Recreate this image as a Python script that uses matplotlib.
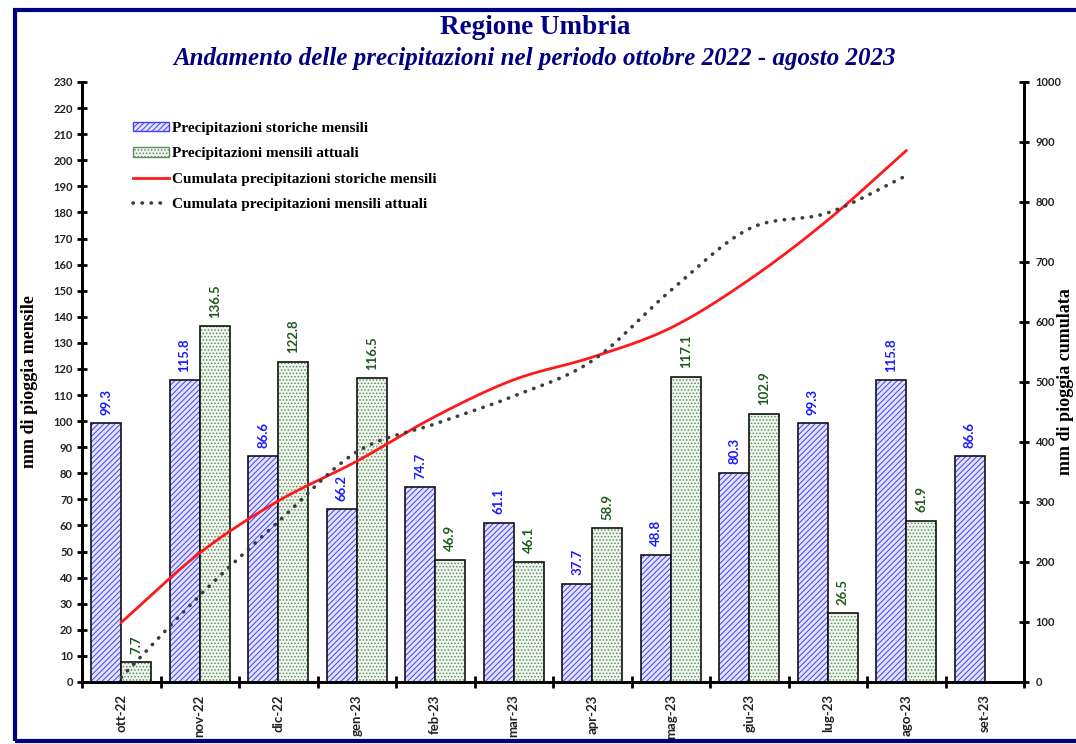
import numpy as np
import matplotlib
matplotlib.use("Agg")
from matplotlib import pyplot as plt
from matplotlib.patches import Patch, Rectangle
from matplotlib.lines import Line2D

months = ['ott-22', 'nov-22', 'dic-22', 'gen-23', 'feb-23', 'mar-23',
          'apr-23', 'mag-23', 'giu-23', 'lug-23', 'ago-23', 'set-23']
storiche = [99.3, 115.8, 86.6, 66.2, 74.7, 61.1, 37.7, 48.8, 80.3, 99.3, 115.8, 86.6]
attuali = [7.7, 136.5, 122.8, 116.5, 46.9, 46.1, 58.9, 117.1, 102.9, 26.5, 61.9]
cum_storiche = [99.3, 215.1, 301.7, 367.9, 442.6, 503.7, 541.4, 590.2, 670.5, 769.8, 885.6]
cum_attuali = [7.7, 144.2, 267.0, 383.5, 430.4, 476.5, 535.4, 652.5, 755.4, 781.9, 843.8]

navy = '#000080'
blue_txt = '#1a1aff'
green_txt = '#1e5a1e'
serif = 'Liberation Serif'
sans = 'Lato'

plt.rcParams['hatch.linewidth'] = 0.7


def smooth(x, y, n=24):
    """Catmull-Rom curve through the points, like Excel's smoothed line."""
    x = np.asarray(x, float)
    y = np.asarray(y, float)
    px = np.concatenate([[2*x[0]-x[1]], x, [2*x[-1]-x[-2]]])
    py = np.concatenate([[2*y[0]-y[1]], y, [2*y[-1]-y[-2]]])
    xs, ys = [], []
    t = np.linspace(0, 1, n, endpoint=False)
    for i in range(1, len(px)-2):
        for p, out in ((px, xs), (py, ys)):
            p0, p1, p2, p3 = p[i-1], p[i], p[i+1], p[i+2]
            out.extend(0.5*((2*p1) + (-p0+p2)*t + (2*p0-5*p1+4*p2-p3)*t**2
                            + (-p0+3*p1-3*p2+p3)*t**3))
    xs.append(x[-1])
    ys.append(y[-1])
    return np.array(xs), np.array(ys)


f = plt.figure(figsize=(10.76, 7.44), dpi=100)
ax = f.add_axes([82/1076., 62/744., 942/1076., 600/744.])
ax2 = ax.twinx()

# page border
f.patches.append(Rectangle((15/1076., 3/744.), 1.2, 731/744., transform=f.transFigure,
                           fill=False, edgecolor=navy, linewidth=3, zorder=0))

x = np.arange(len(months))
w = 0.385
xh = x - w/2
xa = x[:len(attuali)] + w/2

# hatched fill first, then a black outline on top
ax.bar(xh, storiche, w, color='#e3e3ff', edgecolor='#4040ff', hatch='//////', linewidth=0)
ax.bar(xh, storiche, w, fill=False, edgecolor='#111111', linewidth=1.2)
ax.bar(xa, attuali, w, color='#eef5ee', edgecolor='#5e8e5e', hatch='.....', linewidth=0)
ax.bar(xa, attuali, w, fill=False, edgecolor='#111111', linewidth=1.2)

for xi, v in zip(xh, storiche):
    ax.annotate('%.1f' % v, (xi, v), xytext=(0, 6), textcoords='offset points',
                rotation=90, ha='center', va='bottom', color=blue_txt,
                fontsize=9.5, fontweight='bold', family=sans)
for xi, v in zip(xa, attuali):
    ax.annotate('%.1f' % v, (xi, v), xytext=(0, 6), textcoords='offset points',
                rotation=90, ha='center', va='bottom', color=green_txt,
                fontsize=9.5, fontweight='bold', family=sans)

ax2.plot(*smooth(x[:len(cum_storiche)], cum_storiche), color='#ff1a1a', linewidth=2)
ax2.plot(*smooth(x[:len(cum_attuali)], cum_attuali), color='#3c3c3c', linewidth=2.6,
         linestyle=(0, (0.1, 2.4)), dash_capstyle='round')

ax.set_xlim(-0.5, len(months) - 0.5)
ax.set_ylim(0, 230)
ax2.set_ylim(0, 1000)
ax.set_yticks(np.arange(0, 231, 10))
ax2.set_yticks(np.arange(0, 1001, 100))

ax.set_xticks(np.arange(-0.5, len(months), 1.0))
ax.set_xticklabels([])
ax.set_xticks(x, minor=True)
ax.set_xticklabels(months, minor=True, rotation=90, fontsize=9.5, fontweight='bold',
                   family=sans, color='#222222')
ax.tick_params(axis='x', which='minor', length=0, pad=9)
ax.tick_params(axis='x', which='major', direction='inout', length=8, width=2)
ax.tick_params(axis='y', direction='inout', length=7, width=2, labelsize=8,
               labelcolor='#222222', pad=3)
ax2.tick_params(axis='y', direction='inout', length=7, width=2, labelsize=8,
                labelcolor='#222222', pad=5)
for a in (ax, ax2):
    for lab in a.get_yticklabels():
        lab.set_fontweight('bold')
        lab.set_family(sans)
    a.spines['top'].set_visible(False)
    for s in ('left', 'right', 'bottom'):
        a.spines[s].set_linewidth(2)

f.text(30/1076., 0.487, 'mm di pioggia mensile', rotation=90, ha='center', va='center',
       fontsize=13, fontweight='bold', family=serif)
f.text(1066/1076., 0.487, 'mm di pioggia cumulata', rotation=90, ha='center', va='center',
       fontsize=13, fontweight='bold', family=serif)

f.text(535/1076., 1 - 28/744., 'Regione Umbria', ha='center', va='center',
       fontsize=19.5, fontweight='bold', family=serif, color=navy)
f.text(535/1076., 1 - 58/744., 'Andamento delle precipitazioni nel periodo ottobre 2022 - agosto 2023',
       ha='center', va='center', fontsize=18, fontweight='bold', style='italic',
       family=serif, color=navy)

handles = [Patch(facecolor='#e3e3ff', edgecolor='#4040ff', hatch='//////'),
           Patch(facecolor='#eef5ee', edgecolor='#5e8e5e', hatch='.....'),
           Line2D([], [], color='#ff1a1a', linewidth=2),
           Line2D([], [], color='#3c3c3c', linewidth=2.6, linestyle=(0, (0.1, 2.4)),
                  dash_capstyle='round')]
labels = ['Precipitazioni storiche mensili', 'Precipitazioni mensili attuali',
          'Cumulata precipitazioni storiche mensili', 'Cumulata precipitazioni mensili attuali']
ax2.legend(handles, labels, loc='upper left', bbox_to_anchor=(0.04, 0.957), frameon=False,
           prop={'family': serif, 'weight': 'bold', 'size': 11}, handlelength=2.3,
           handleheight=0.6, handletextpad=0.25, labelspacing=0.8)

f.savefig('out.png', dpi=100)
